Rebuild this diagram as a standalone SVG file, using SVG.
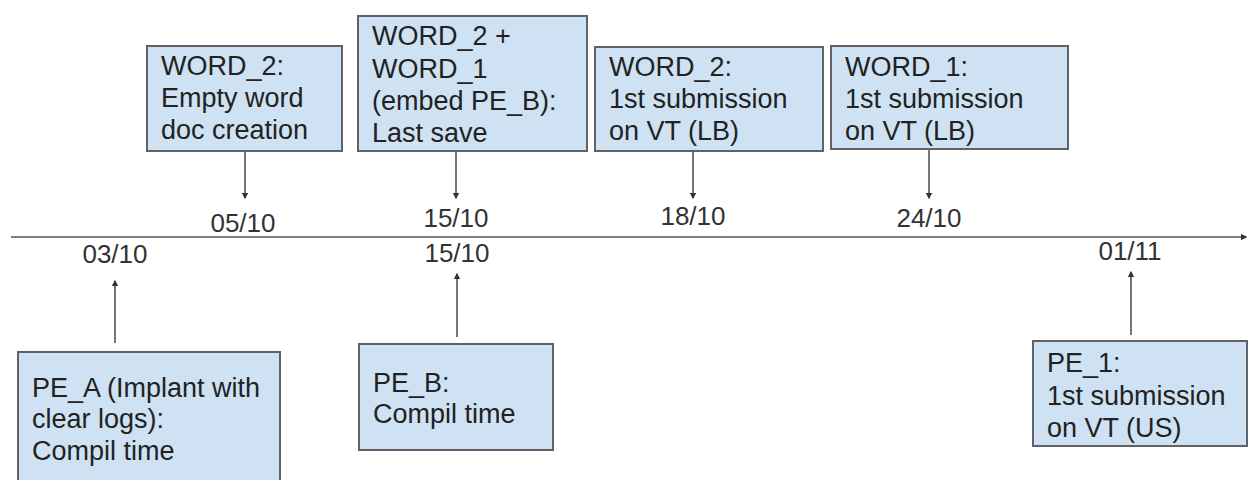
<svg xmlns="http://www.w3.org/2000/svg" width="1249" height="480" viewBox="0 0 1249 480">
<defs>
<style>
.box{fill:#cfe2f3;stroke:#5f6368;stroke-width:2}
.t{font-family:"Liberation Sans",Arial,sans-serif;font-size:27px;fill:#222222}
.d{font-family:"Liberation Sans",Arial,sans-serif;font-size:26px;fill:#333333;text-anchor:middle}
.c{stroke:#555;stroke-width:1.6;fill:none}
</style>
<marker id="ah" viewBox="0 0 10 10" refX="8" refY="5" markerWidth="4" markerHeight="4" orient="auto">
<path d="M0,0 L10,5 L0,10 z" fill="#333"/>
</marker>
</defs>
<rect width="1249" height="480" fill="#fff"/>
<g id="connectors">
<line class="c" x1="11" y1="237" x2="1246" y2="237" stroke-width="2.2" marker-end="url(#ah)"/>
<line class="c" x1="245" y1="152" x2="245" y2="198" marker-end="url(#ah)"/>
<line class="c" x1="456" y1="152" x2="456" y2="198" marker-end="url(#ah)"/>
<line class="c" x1="693" y1="152" x2="693" y2="198" marker-end="url(#ah)"/>
<line class="c" x1="929" y1="150" x2="929" y2="198" marker-end="url(#ah)"/>
<line class="c" x1="115" y1="343" x2="115" y2="281" marker-end="url(#ah)"/>
<line class="c" x1="457" y1="337" x2="457" y2="274" marker-end="url(#ah)"/>
<line class="c" x1="1131" y1="335" x2="1131" y2="272" marker-end="url(#ah)"/>
</g>
<g id="dates">
<text class="d" x="243" y="232">05/10</text>
<text class="d" x="456" y="227">15/10</text>
<text class="d" x="693" y="225">18/10</text>
<text class="d" x="929" y="227">24/10</text>
<text class="d" x="115" y="263">03/10</text>
<text class="d" x="457" y="262">15/10</text>
<text class="d" x="1130" y="260">01/11</text>
</g>
<g id="word2-empty">
<rect class="box" x="147" y="46" width="195" height="105"/>
<text class="t" x="161" y="75">WORD_2:</text>
<text class="t" x="161" y="107">Empty word</text>
<text class="t" x="161" y="139">doc creation</text>
</g>
<g id="word2-word1-lastsave">
<rect class="box" x="358" y="16" width="229" height="135"/>
<text class="t" x="372" y="45">WORD_2 +</text>
<text class="t" x="372" y="78">WORD_1</text>
<text class="t" x="372" y="110">(embed PE_B):</text>
<text class="t" x="372" y="142">Last save</text>
</g>
<g id="word2-submission">
<rect class="box" x="595" y="47" width="228" height="104"/>
<text class="t" x="609" y="76">WORD_2:</text>
<text class="t" x="609" y="108">1st submission</text>
<text class="t" x="609" y="140">on VT (LB)</text>
</g>
<g id="word1-submission">
<rect class="box" x="831" y="46" width="237" height="103"/>
<text class="t" x="845" y="76">WORD_1:</text>
<text class="t" x="845" y="108">1st submission</text>
<text class="t" x="845" y="140">on VT (LB)</text>
</g>
<g id="pe-a">
<rect class="box" x="18" y="352" width="262" height="140"/>
<text class="t" x="32" y="397">PE_A (Implant with</text>
<text class="t" x="32" y="428">clear logs):</text>
<text class="t" x="32" y="460">Compil time</text>
</g>
<g id="pe-b">
<rect class="box" x="359" y="344" width="194" height="106"/>
<text class="t" x="373" y="392">PE_B:</text>
<text class="t" x="373" y="423">Compil time</text>
</g>
<g id="pe-1">
<rect class="box" x="1033" y="341" width="214" height="105"/>
<text class="t" x="1047" y="372">PE_1:</text>
<text class="t" x="1047" y="405">1st submission</text>
<text class="t" x="1047" y="437">on VT (US)</text>
</g>
</svg>
